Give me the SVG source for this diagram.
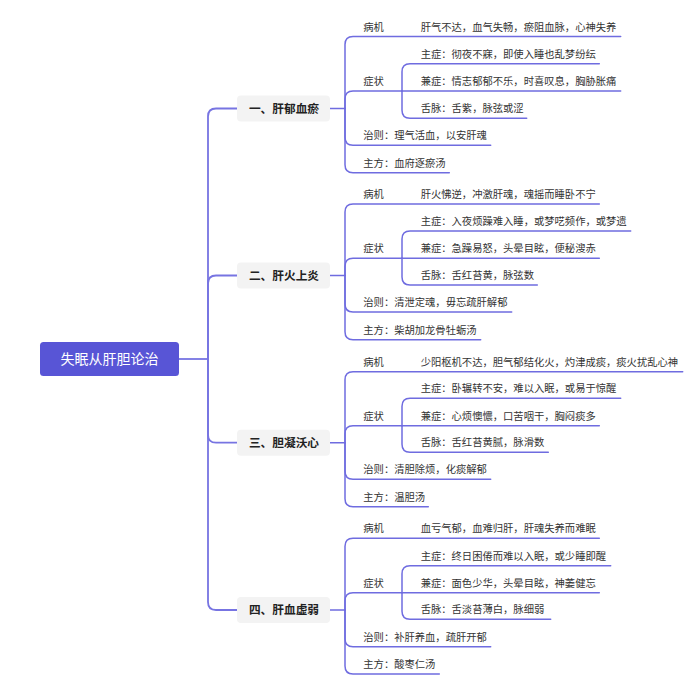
<svg xmlns="http://www.w3.org/2000/svg" width="696" height="694" viewBox="0 0 696 694">
<style>
.ln{fill:none;stroke:#6f6ce0;stroke-width:1.5;stroke-linecap:round}
.tr{fill:none;stroke:#7774e2;stroke-width:1.8}
.t{font-family:"Noto Sans CJK SC","Noto Sans",sans-serif;font-size:10.3px;fill:#333}
.n1 rect{fill:#f3f3f3}
.n1 text{font-family:"Noto Sans CJK SC","Noto Sans",sans-serif;font-size:11.7px;font-weight:bold;fill:#222;text-anchor:middle}
</style>
<rect width="696" height="694" fill="#fff"/>
<g id="connectors">
<path class="tr" d="M179 359H208"/>
<path class="tr" d="M208 359V116.5Q208 108.5 216 108.5H237"/>
<path class="tr" d="M208 359V283.5Q208 275.5 216 275.5H237"/>
<path class="tr" d="M208 359V434.7Q208 442.7 216 442.7H237"/>
<path class="tr" d="M208 359V602Q208 610 216 610H237"/>
<!-- group 1 -->
<path class="ln" d="M330 108.5H345"/>
<path class="ln" d="M345 108.5V44.5Q345 36.5 353 36.5H620.7"/>
<path class="ln" d="M345 108.5V99Q345 91 353 91H402"/>
<path class="ln" d="M345 108.5V137.3Q345 145.3 353 145.3H490.7"/>
<path class="ln" d="M345 108.5V164.7Q345 172.7 353 172.7H449.3"/>
<path class="ln" d="M402 91V71.8Q402 63.8 410 63.8H599.3"/>
<path class="ln" d="M402 91H620.7"/>
<path class="ln" d="M402 91V110.3Q402 118.3 410 118.3H526.7"/>
<!-- group 2 -->
<path class="ln" d="M330 275.5H345"/>
<path class="ln" d="M345 275.5V212Q345 204 353 204H599.3"/>
<path class="ln" d="M345 275.5V266.3Q345 258.3 353 258.3H402"/>
<path class="ln" d="M345 275.5V304Q345 312 353 312H511.7"/>
<path class="ln" d="M345 275.5V331.7Q345 339.7 353 339.7H480.7"/>
<path class="ln" d="M402 258.3V239Q402 231 410 231H630.7"/>
<path class="ln" d="M402 258.3H599.3"/>
<path class="ln" d="M402 258.3V277Q402 285 410 285H537.3"/>
<!-- group 3 -->
<path class="ln" d="M330 442.7H345"/>
<path class="ln" d="M345 442.7V379.7Q345 371.7 353 371.7H682.7"/>
<path class="ln" d="M345 442.7V433.7Q345 425.7 353 425.7H402"/>
<path class="ln" d="M345 442.7V471.3Q345 479.3 353 479.3H490.7"/>
<path class="ln" d="M345 442.7V498.7Q345 506.7 353 506.7H428.3"/>
<path class="ln" d="M402 425.7V406.3Q402 398.3 410 398.3H620.7"/>
<path class="ln" d="M402 425.7H599.3"/>
<path class="ln" d="M402 425.7V444.3Q402 452.3 410 452.3H548.3"/>
<!-- group 4 -->
<path class="ln" d="M330 610H345"/>
<path class="ln" d="M345 610V546.3Q345 538.3 353 538.3H599.3"/>
<path class="ln" d="M345 610V600.7Q345 592.7 353 592.7H402"/>
<path class="ln" d="M345 610V638.7Q345 646.7 353 646.7H490.7"/>
<path class="ln" d="M345 610V666Q345 674 353 674H439.3"/>
<path class="ln" d="M402 592.7V573.7Q402 565.7 410 565.7H610.7"/>
<path class="ln" d="M402 592.7H599.3"/>
<path class="ln" d="M402 592.7V611.3Q402 619.3 410 619.3H550.7"/>
</g>
<g id="root">
<rect x="40" y="342" width="139" height="34" rx="3.5" fill="#5855d6"/>
<text x="109.5" y="364" text-anchor="middle" font-family="'Noto Sans CJK SC','Noto Sans',sans-serif" font-size="14" fill="#fff">失眠从肝胆论治</text>
</g>
<g id="n1" class="n1"><rect x="237" y="95.5" width="93" height="26" rx="4"/><text x="284" y="112.8">一、肝郁血瘀</text></g>
<g id="n2" class="n1"><rect x="237" y="262.5" width="93" height="26" rx="4"/><text x="284" y="279.8">二、肝火上炎</text></g>
<g id="n3" class="n1"><rect x="237" y="429.7" width="93" height="26" rx="4"/><text x="284" y="447">三、胆凝沃心</text></g>
<g id="n4" class="n1"><rect x="237" y="597" width="93" height="26" rx="4"/><text x="284" y="614.3">四、肝血虚弱</text></g>
<g id="g1-leaves">
<text class="t" x="363.3" y="30.5">病机</text>
<text class="t" x="420.7" y="30.5">肝气不达，血气失畅，瘀阻血脉，心神失养</text>
<text class="t" x="363.3" y="85">症状</text>
<text class="t" x="420.7" y="57.8">主症：彻夜不寐，即使入睡也乱梦纷纭</text>
<text class="t" x="420.7" y="85">兼症：情志郁郁不乐，时喜叹息，胸胁胀痛</text>
<text class="t" x="420.7" y="112.3">舌脉：舌紫，脉弦或涩</text>
<text class="t" x="363.3" y="139.3">治则：理气活血，以安肝魂</text>
<text class="t" x="363.3" y="166.7">主方：血府逐瘀汤</text>
</g>
<g id="g2-leaves">
<text class="t" x="363.3" y="198">病机</text>
<text class="t" x="420.7" y="198">肝火怫逆，冲激肝魂，魂摇而睡卧不宁</text>
<text class="t" x="363.3" y="252.3">症状</text>
<text class="t" x="420.7" y="225">主症：入夜烦躁难入睡，或梦呓频作，或梦遗</text>
<text class="t" x="420.7" y="252.3">兼症：急躁易怒，头晕目眩，便秘溲赤</text>
<text class="t" x="420.7" y="279">舌脉：舌红苔黄，脉弦数</text>
<text class="t" x="363.3" y="306">治则：清泄定魂，毋忘疏肝解郁</text>
<text class="t" x="363.3" y="333.7">主方：柴胡加龙骨牡蛎汤</text>
</g>
<g id="g3-leaves">
<text class="t" x="363.3" y="365.7">病机</text>
<text class="t" x="420.7" y="365.7">少阳枢机不达，胆气郁结化火，灼津成痰，痰火扰乱心神</text>
<text class="t" x="363.3" y="419.7">症状</text>
<text class="t" x="420.7" y="392.3">主症：卧辗转不安，难以入眠，或易于惊醒</text>
<text class="t" x="420.7" y="419.7">兼症：心烦懊憹，口苦咽干，胸闷痰多</text>
<text class="t" x="420.7" y="446.3">舌脉：舌红苔黄腻，脉滑数</text>
<text class="t" x="363.3" y="473.3">治则：清胆除烦，化痰解郁</text>
<text class="t" x="363.3" y="500.7">主方：温胆汤</text>
</g>
<g id="g4-leaves">
<text class="t" x="363.3" y="532.3">病机</text>
<text class="t" x="420.7" y="532.3">血亏气郁，血难归肝，肝魂失养而难眠</text>
<text class="t" x="363.3" y="586.7">症状</text>
<text class="t" x="420.7" y="559.7">主症：终日困倦而难以入眠，或少睡即醒</text>
<text class="t" x="420.7" y="586.7">兼症：面色少华，头晕目眩，神萎健忘</text>
<text class="t" x="420.7" y="613.3">舌脉：舌淡苔薄白，脉细弱</text>
<text class="t" x="363.3" y="640.7">治则：补肝养血，疏肝开郁</text>
<text class="t" x="363.3" y="668">主方：酸枣仁汤</text>
</g>
</svg>
